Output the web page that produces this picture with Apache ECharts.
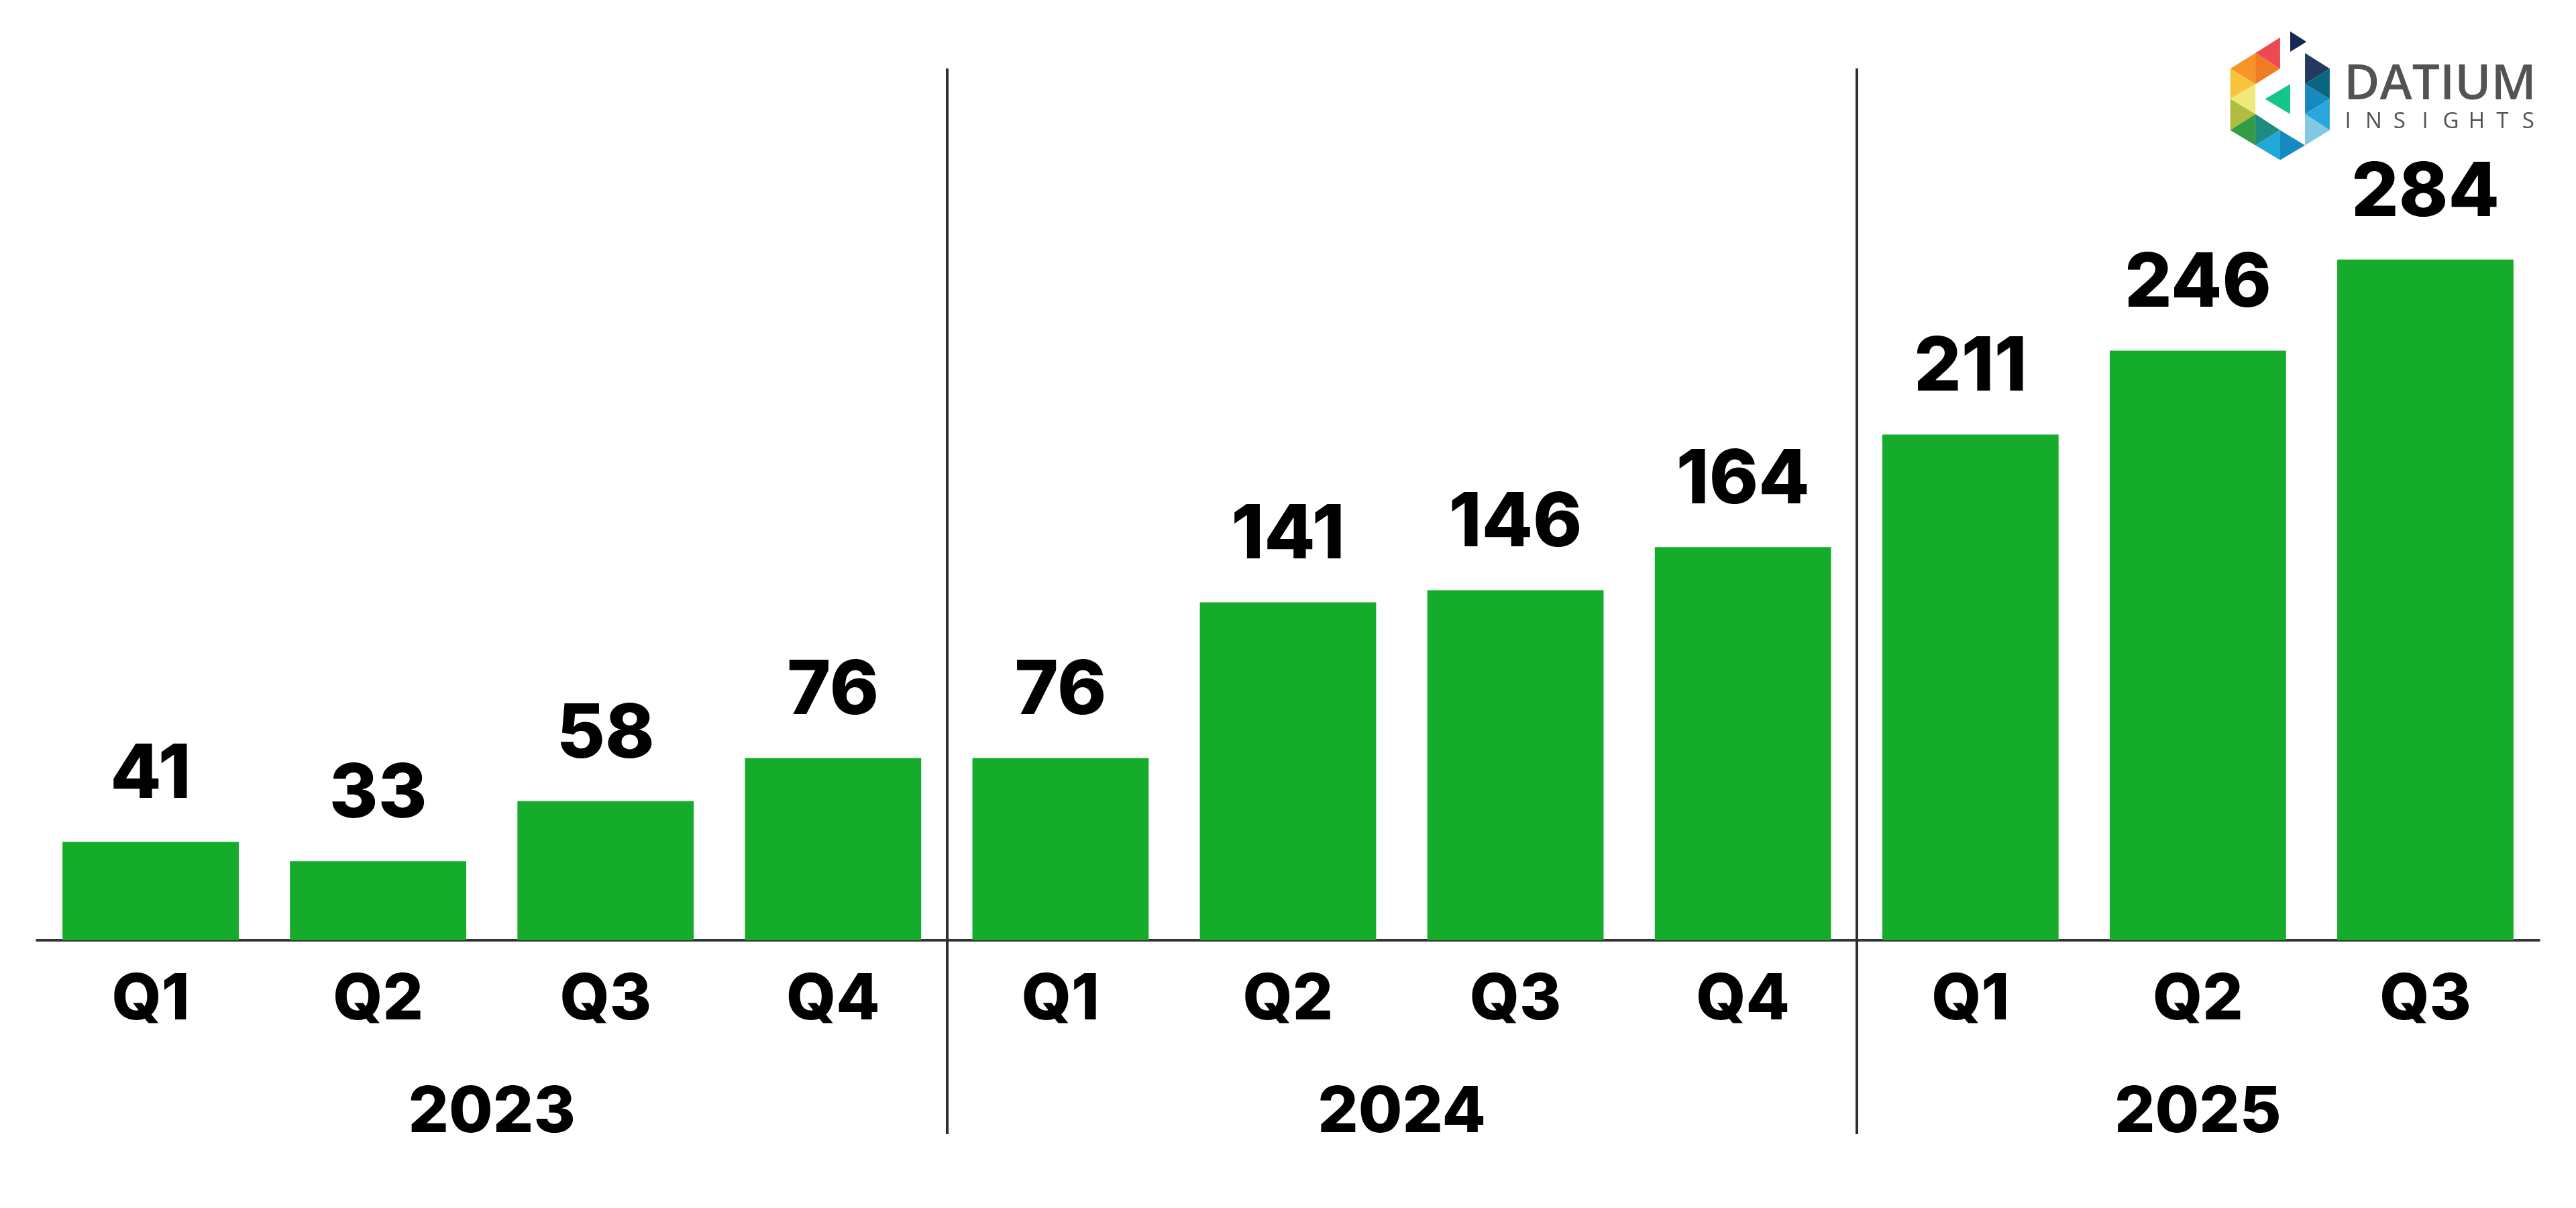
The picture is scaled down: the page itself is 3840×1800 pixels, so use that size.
<!DOCTYPE html>
<html>
<head>
<meta charset="utf-8">
<script src="https://cdn.jsdelivr.net/npm/echarts@6/dist/echarts.min.js"></script>
<style>
  html, body { margin: 0; padding: 0; background: #ffffff; }
  #chart { width: 3840px; height: 1800px; }
</style>
</head>
<body>
<div id="chart"></div>
<script>
// ---- data ----
const categories = ['2023 Q1', '2023 Q2', '2023 Q3', '2023 Q4',
                    '2024 Q1', '2024 Q2', '2024 Q3', '2024 Q4',
                    '2025 Q1', '2025 Q2', '2025 Q3'];
const values = [41, 33, 58, 76, 76, 141, 146, 164, 211, 246, 284];
const years = ['2023', '2024', '2025'];
const groupSizes = [4, 4, 3];

// derived positions (in category index units)
const yearCenters = [];
const separators = [];
let acc = 0;
groupSizes.forEach((n, i) => {
  yearCenters.push(acc + (n - 1) / 2);
  acc += n;
  if (i < groupSizes.length - 1) separators.push(acc - 0.5);
});

const FONT = 'Inter';
const WEIGHT = 800;
const chart = echarts.init(document.getElementById('chart'), null, { renderer: 'canvas' });

// ---- logo (decoration) ----
const zx = x => 3280 + x / 2.8, zy = y => 20 + y / 2.8;
const c = [125, 230, 333, 437, 540];
const r = [100, 165, 230, 295, 357, 420, 487, 550, 612];
const tri = (pts, fill) => ({
  type: 'polygon',
  shape: { points: pts.map(p => [zx(p[0]), zy(p[1])]) },
  style: { fill: fill }
});
const logo = [
  tri([[c[1], r[1]], [c[2], r[0]], [c[2], r[2]]], '#EC4A50'),
  tri([[c[0], r[2]], [c[1], r[1]], [c[1], r[3]]], '#F7932A'),
  tri([[c[1], r[1]], [c[2], r[2]], [c[1], r[3]]], '#EF7B22'),
  tri([[c[0], r[2]], [c[1], r[3]], [c[0], r[4]]], '#F8C43A'),
  tri([[c[1], r[3]], [c[0], r[4]], [c[1], r[5]]], '#EDE97A'),
  tri([[c[0], r[4]], [c[1], r[5]], [c[0], r[6]]], '#AFBE3E'),
  tri([[c[0], r[6]], [c[1], r[5]], [c[1], r[7]]], '#329C48'),
  tri([[c[1], r[5]], [c[2], r[6]], [c[1], r[7]]], '#1E8A80'),
  tri([[c[1], r[7]], [c[2], r[6]], [c[2], r[8]]], '#1FA8D8'),
  tri([[c[2], r[6]], [c[3], r[7]], [c[2], r[8]]], '#1689C0'),
  tri([[375, 75], [443, 118], [375, 160]], '#132B50'),
  tri([[c[3], r[1]], [c[4], r[2]], [c[3], r[3]]], '#223A5E'),
  tri([[c[3], r[3]], [c[4], r[2]], [c[4], r[4]]], '#0A6680'),
  tri([[c[3], r[3]], [c[4], r[4]], [c[3], r[5]]], '#1689C0'),
  tri([[c[3], r[5]], [c[4], r[4]], [c[4], r[6]]], '#2AA6DF'),
  tri([[c[3], r[5]], [c[4], r[6]], [c[3], r[7]]], '#82C8E3'),
  tri([[270, 357], [375, 295], [375, 420]], '#17C48C'),
  {
    type: 'text', x: 3494, y: 127,
    style: { text: 'DATIUM', fill: '#525453', font: '600 73px "Open Sans"',
             textAlign: 'left', textVerticalAlign: 'middle' }
  }
];
'INSIGHTS'.split('').forEach((ch, i) => {
  logo.push({
    type: 'text', x: 3500 + i * 38.4, y: 182,
    style: { text: ch, fill: '#525453', font: '400 33px "Open Sans"',
             textAlign: 'center', textVerticalAlign: 'middle' }
  });
});

const option = {
  backgroundColor: '#ffffff',
  animation: false,
  graphic: logo,
  grid: [
    { left: 55, right: 55, top: 151, bottom: 399 },
    { left: 55, right: 55, top: 102, bottom: 110 }
  ],
  xAxis: [
    {
      type: 'category', gridIndex: 0, data: categories,
      axisLine: { show: true, lineStyle: { color: '#333333', width: 4 } },
      axisTick: { show: false },
      axisLabel: {
        margin: 42, color: '#000000', fontFamily: FONT, fontWeight: WEIGHT, fontSize: 95,
        formatter: v => v.split(' ')[1]
      }
    },
    {
      type: 'value', gridIndex: 1, min: -0.5, max: categories.length - 0.5,
      position: 'bottom',
      axisLine: { show: false },
      splitLine: { show: false },
      axisTick: {
        show: true, inside: true, length: 1588, customValues: separators,
        lineStyle: { color: '#2d2d2d', width: 4 }
      },
      axisLabel: {
        show: true, inside: true, margin: 32, verticalAlign: 'middle',
        customValues: yearCenters,
        color: '#000000', fontFamily: FONT, fontWeight: WEIGHT, fontSize: 95,
        formatter: v => {
          const i = yearCenters.findIndex(cv => Math.abs(cv - v) < 1e-6);
          return i >= 0 ? years[i] : '';
        }
      }
    }
  ],
  yAxis: [
    { type: 'value', gridIndex: 0, min: 0, max: 350, show: false },
    { type: 'value', gridIndex: 1, min: 0, max: 1, show: false }
  ],
  series: [
    {
      type: 'bar', xAxisIndex: 0, yAxisIndex: 0, data: values,
      barCategoryGap: '22.5%',
      itemStyle: { color: '#15AC2B' },
      label: {
        show: true, position: 'top', distance: 43,
        color: '#000000', fontFamily: FONT, fontWeight: WEIGHT, fontSize: 111
      }
    }
  ]
};
chart.setOption(option);
</script>
</body>
</html>
